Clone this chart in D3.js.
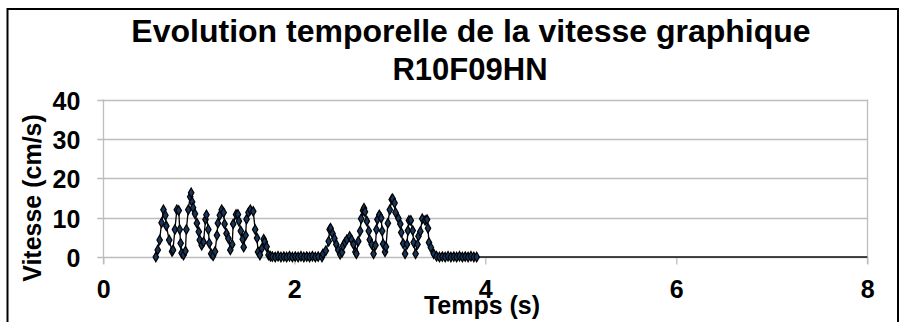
<!DOCTYPE html>
<html>
<head>
<meta charset="utf-8">
<script src="https://cdn.jsdelivr.net/npm/d3@7"></script>
<style>
  html, body { margin: 0; padding: 0; background: #fff; }
  svg { display: block; }
  text { font-family: "Liberation Sans", Arial, sans-serif; font-weight: bold; fill: #000; }
</style>
</head>
<body>
<svg id="chart" width="907" height="322"></svg>
<script>
const titleLines = ["Evolution temporelle de la vitesse graphique", "R10F09HN"];
const xLabel = "Temps (s)";
const yLabel = "Vitesse (cm/s)";
const xTicks = [0, 2, 4, 6, 8];
const yTicks = [0, 10, 20, 30, 40];

// time (s) and speed (cm/s)
const time = [
  0.55,0.57,0.59,0.61,0.63,0.65,0.66,0.69,0.72,0.73,0.75,0.77,0.79,0.80,0.81,0.82,0.84,0.86,0.87,0.89,
  0.91,0.92,0.93,0.94,0.96,0.98,1.00,1.01,1.03,1.05,1.07,1.08,1.10,1.11,1.13,1.15,1.17,1.19,1.20,1.22,
  1.24,1.26,1.27,1.29,1.31,1.33,1.35,1.36,1.39,1.41,1.42,1.44,1.46,1.47,1.49,1.50,1.52,1.54,1.57,1.59,
  1.61,1.62,1.64,1.66,1.68,1.69,1.71,1.73,1.75,
  1.77,1.80,1.83,1.86,1.89,1.92,1.95,1.98,2.01,2.04,2.07,2.10,2.13,2.16,2.19,2.22,2.25,
  2.29,2.30,2.33,2.36,2.37,2.38,2.40,2.42,2.44,2.46,2.48,2.50,2.51,2.53,2.55,2.58,2.60,2.62,2.64,2.65,
  2.67,2.69,2.70,2.72,2.73,2.74,2.76,2.78,2.79,2.81,2.83,2.85,2.86,2.87,2.89,2.91,2.92,2.93,2.95,2.96,
  2.98,3.00,3.02,3.03,3.05,3.06,3.09,3.11,3.12,3.14,3.16,3.18,3.19,3.20,3.22,3.24,3.25,3.27,3.29,3.30,
  3.32,3.34,3.37,3.39,3.40,3.41,3.43,3.46,3.49,
  3.52,3.55,3.58,3.61,3.64,3.67,3.70,3.73,3.76,3.79,3.82,3.85,3.88,3.91
];
const speed = [
  0,1.8,4.3,8.7,12,10.6,7.9,4.3,1.4,1.8,7,12,11.8,7,3.5,1,0.5,1.5,7,12,
  15.3,16.3,14,12.5,11,8.6,6.4,4.3,3,3.8,9.5,10.7,7,3.5,0.8,0.3,1.4,5.5,8.6,10.6,
  12,11.3,8.4,6,4.7,1.8,3.2,8.4,10.8,10.8,9.1,6.6,4.5,2.5,5.5,9.6,11.3,12,11.6,7,
  4.8,1.3,0.5,2.2,4.5,3.9,2.6,0.5,0.2,
  0.1,0,0.2,0,0.1,0,0.2,0,0.1,0,0.2,0,0.1,0,0.2,0,0.1,
  0,0.8,1.6,4,7,7.3,6,4.7,3.2,1.8,0.7,1.2,2.8,3.7,4.4,5.2,4.4,3.2,1.3,0.8,
  4,6.6,9.7,11.8,12.4,11.5,9.1,6.6,4.4,3.2,0.8,3,7,9.5,10.7,9.9,6.6,3.3,1.3,2.6,
  8.6,12,14.6,14.8,13.7,11.3,9.8,8.4,6.2,3.4,0.8,3.2,6.7,9.3,9.3,6.7,3.7,0.8,3.2,5.3,
  6.5,9.7,9.3,9.5,7.3,3.7,2.4,0.8,0.2,
  0,0.1,0,0.2,0,0.1,0,0.2,0,0.1,0,0.2,0,0
];
// the series line continues at zero (no markers) up to this time
const tailTime = [3.91, 8];
const tailSpeed = [0, 0];

const svg = d3.select("#chart");

// outer chart frame
svg.append("rect").attr("x", 7.5).attr("y", 9).attr("width", 890.5).attr("height", 340)
  .attr("fill", "none").attr("stroke", "#000").attr("stroke-width", 2);

const x = d3.scaleLinear().domain([0, 8]).range([103.3, 867.3]);
const y = d3.scaleLinear().domain([0, 40]).range([257, 99.5]);

const grid = "#bdbdbd";

// horizontal gridlines
svg.append("g").selectAll("line").data(yTicks).join("line")
  .attr("x1", x(0) - 6).attr("x2", x(8))
  .attr("y1", d => Math.round(y(d)) + 0.5).attr("y2", d => Math.round(y(d)) + 0.5)
  .attr("stroke", grid).attr("stroke-width", 1.3);

// plot-area left & right edges
[0, 8].forEach(v => {
  svg.append("line").attr("x1", Math.round(x(v)) + 0.5).attr("x2", Math.round(x(v)) + 0.5)
    .attr("y1", y(40)).attr("y2", y(0) + 7)
    .attr("stroke", grid).attr("stroke-width", 1.3);
});

// x ticks
const xAxis = d3.axisBottom(x).tickValues(xTicks).tickSize(7).tickFormat(d3.format("d"));
const gx = svg.append("g").attr("transform", `translate(0,${Math.round(y(0)) + 0.5})`).call(xAxis);
gx.select(".domain").remove();
gx.selectAll(".tick line").attr("stroke", grid).attr("stroke-width", 1.3);
gx.selectAll(".tick text").attr("y", 23).attr("dy", "0.71em")
  .style("font-size", "25px").style("font-family", "'Liberation Sans', Arial, sans-serif").style("font-weight", "bold").attr("fill", "#000");

// y tick labels
const yAxis = d3.axisLeft(y).tickValues(yTicks).tickSize(0).tickFormat(d3.format("d"));
const gy = svg.append("g").attr("transform", `translate(${x(0)},0)`).call(yAxis);
gy.select(".domain").remove();
gy.selectAll(".tick text").attr("x", -23).attr("dy", "0.38em")
  .style("font-size", "25px").style("font-family", "'Liberation Sans', Arial, sans-serif").style("font-weight", "bold").attr("fill", "#000");

// series
const pts = time.map((t, i) => [t, speed[i]]);
const tail = tailTime.map((t, i) => [t, tailSpeed[i]]);
const line = d3.line().x(d => x(d[0])).y(d => y(d[1]));
svg.append("path").datum(tail).attr("d", line).attr("fill", "none").attr("stroke", "#111").attr("stroke-width", 1.3);
svg.append("path").datum(pts).attr("d", line).attr("fill", "none").attr("stroke", "#000").attr("stroke-width", 1.3);

const diamond = d3.symbol().type(d3.symbolDiamond).size(26);
svg.append("g").selectAll("path").data(pts).join("path")
  .attr("transform", d => `translate(${x(d[0])},${y(d[1])})`)
  .attr("d", diamond)
  .attr("fill", "#17365d").attr("stroke", "#000").attr("stroke-width", 1.2);

// titles
svg.append("text").attr("x", 471).attr("y", 42).attr("text-anchor", "middle")
  .style("font-size", "32px").text(titleLines[0]);
svg.append("text").attr("x", 470).attr("y", 80).attr("text-anchor", "middle")
  .style("font-size", "31px").text(titleLines[1]);

svg.append("text").attr("x", 482).attr("y", 314).attr("text-anchor", "middle")
  .style("font-size", "25px").text(xLabel);

svg.append("text").attr("transform", "translate(41,198) rotate(-90)").attr("text-anchor", "middle")
  .style("font-size", "25px").text(yLabel);
</script>
</body>
</html>
